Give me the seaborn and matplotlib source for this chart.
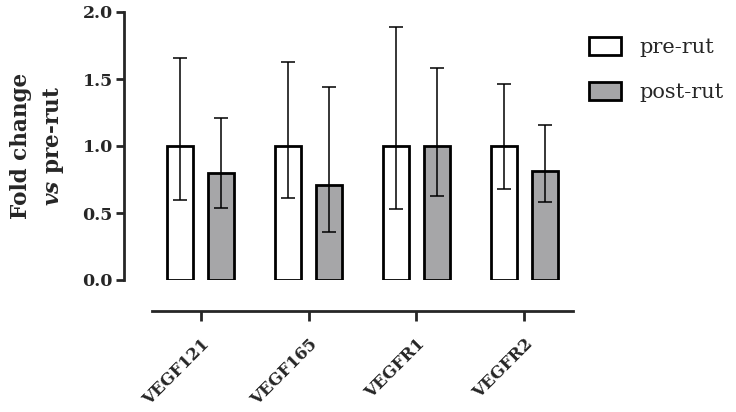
import pandas as pd
import matplotlib
matplotlib.use("Agg")
import matplotlib.pyplot as plt
from matplotlib.patches import Patch
import seaborn as sns

# Valores
genes = ['VEGF121', 'VEGF165', 'VEGFR1', 'VEGFR2']
grupos = ['pre-rut', 'post-rut']
media_pre = [1.00, 1.00, 1.00, 1.00]
media_post = [0.80, 0.71, 1.00, 0.81]
sup_pre = [1.66, 1.63, 1.89, 1.46]
inf_pre = [0.60, 0.61, 0.53, 0.68]
sup_post = [1.21, 1.44, 1.58, 1.16]
inf_post = [0.54, 0.36, 0.63, 0.58]

colores = {'pre-rut': 'white', 'post-rut': '#a6a6a8'}

df = pd.DataFrame({
    'gen': genes * 2,
    'grupo': ['pre-rut'] * 4 + ['post-rut'] * 4,
    'valor': media_pre + media_post,
})

sns.set_style('ticks')
plt.rcParams['font.family'] = ['DejaVu Serif']
plt.rcParams['mathtext.fontset'] = 'custom'
plt.rcParams['mathtext.bfit'] = 'DejaVu Serif:italic:bold'

fig = plt.figure(figsize=(7.36, 4.12), dpi=100)
ax = fig.add_axes([124 / 736, 132 / 412, 449 / 736, 268 / 412])

sns.barplot(data=df, x='gen', y='valor', hue='grupo', order=genes, hue_order=grupos,
            palette=colores, width=0.76, gap=0.38, errorbar=None, legend=False,
            edgecolor='black', linewidth=2.0, ax=ax)

# Barras de error asimétricas
limites = [(media_pre, inf_pre, sup_pre), (media_post, inf_post, sup_post)]
for cont, (med, inf, sup) in zip(ax.containers, limites):
    xs = [b.get_x() + b.get_width() / 2 for b in cont]
    yerr = [[m - i for m, i in zip(med, inf)], [s - m for m, s in zip(med, sup)]]
    ax.errorbar(xs, med, yerr=yerr, fmt='none', ecolor='black', elinewidth=1.1,
                capsize=4.7, capthick=1.1, zorder=5)

# Ejes (las espinas primero, porque set_position reinicia los ticks)
for lado in ['top', 'right']:
    ax.spines[lado].set_visible(False)
ax.spines['left'].set_linewidth(2)
ax.spines['bottom'].set_linewidth(2)
ax.spines['bottom'].set_position(('outward', 22))
ax.spines['bottom'].set_bounds(-0.45, 3.45)

ax.set_ylim(0, 2)
ax.set_xlim(-0.71, 3.45)
ax.set_yticks([0, 0.5, 1.0, 1.5, 2.0])
ax.set_yticklabels(['0.0', '0.5', '1.0', '1.5', '2.0'], fontweight='bold', fontsize=12.5)
ax.set_xticks(range(len(genes)))
ax.set_xticklabels(genes, rotation=45, ha='right', va='top', rotation_mode='anchor',
                   fontweight='bold', fontsize=12)
ax.tick_params(axis='y', length=6, width=2, pad=2)
ax.tick_params(axis='x', length=7, width=2, pad=11)

ax.set_xlabel('')
ax.set_ylabel('Fold change\n$\\mathbfit{vs}$ pre-rut', fontweight='bold', fontsize=15.5,
              linespacing=1.5)
ax.yaxis.set_label_coords(-0.13, 0.5)

handles = [Patch(facecolor=colores[g], edgecolor='black', linewidth=2, label=g) for g in grupos]
fig.legend(handles=handles, loc='upper left', bbox_to_anchor=(570 / 736, 1 - 18 / 412),
           frameon=False, fontsize=15, handlelength=1.54, handleheight=0.96,
           handletextpad=0.87, labelspacing=1.19)

fig.savefig('out.png', dpi=100)
